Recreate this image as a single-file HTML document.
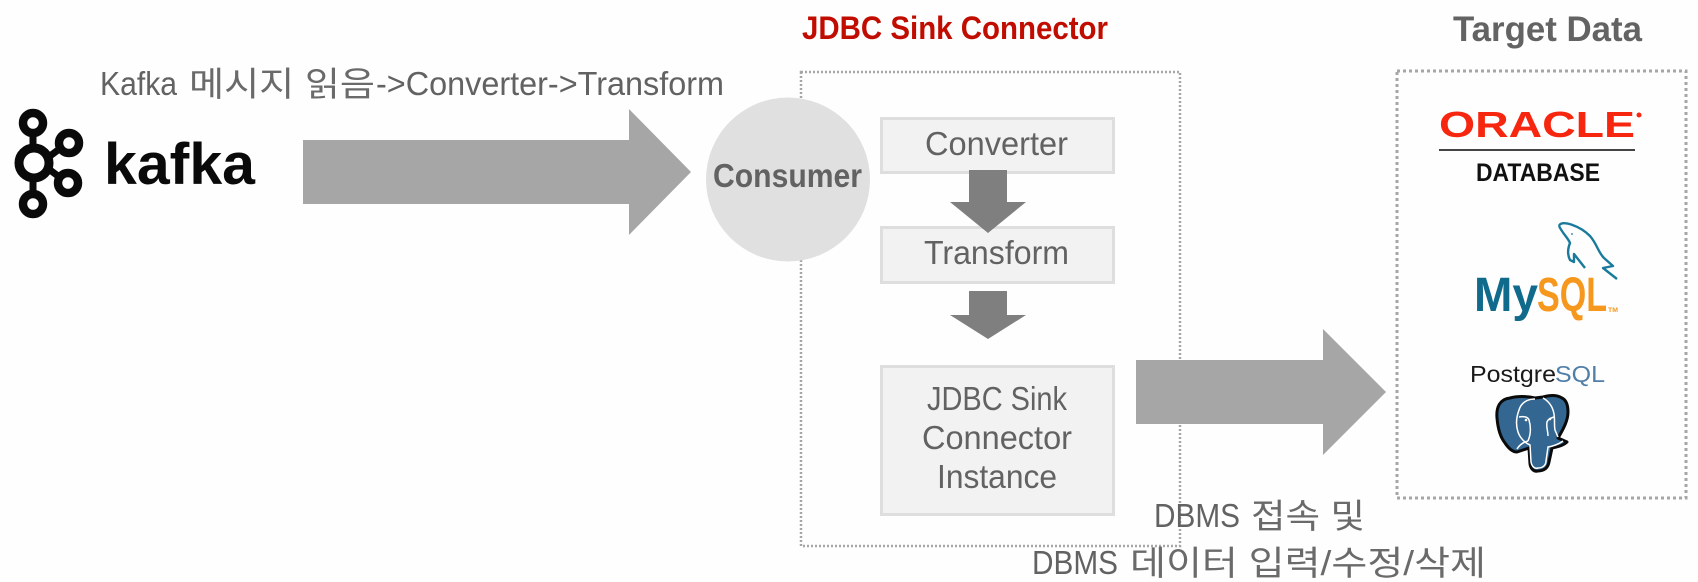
<!DOCTYPE html>
<html lang="ko">
<head>
<meta charset="utf-8">
<title>JDBC Sink Connector</title>
<style>
html,body{margin:0;padding:0;background:#fefefe;width:1698px;height:582px;overflow:hidden}
svg{display:block}
text{font-family:"Liberation Sans","Noto Sans CJK KR",sans-serif}
.t{font-size:33px;fill:#626262}
.k{font-size:34px;fill:#6a6a6a}
.b{font-weight:bold}
</style>
</head>
<body>
<svg width="1698" height="582" viewBox="0 0 1698 582" xmlns="http://www.w3.org/2000/svg">
<rect width="1698" height="582" fill="#fefefe"/>

<!-- Dotted containers -->
<rect x="801" y="72" width="379" height="474" fill="none" stroke="#a6a6a6" stroke-width="2.5" stroke-dasharray="2 2"/>
<rect x="1397" y="71" width="289" height="427" fill="none" stroke="#a6a6a6" stroke-width="3" stroke-dasharray="3 3"/>

<!-- Titles -->
<text x="802" y="39" class="b" font-size="32" fill="#c00d00" textLength="306" lengthAdjust="spacingAndGlyphs">JDBC Sink Connector</text>
<text x="1453" y="41" class="b" font-size="35" fill="#636363" textLength="189" lengthAdjust="spacingAndGlyphs">Target Data</text>

<text x="100" y="95" class="t" textLength="77" lengthAdjust="spacingAndGlyphs">Kafka</text>
<text x="189" y="96" class="k" textLength="186" lengthAdjust="spacingAndGlyphs">메시지 읽음</text>
<text x="376" y="95" class="t" textLength="348" lengthAdjust="spacingAndGlyphs">-&gt;Converter-&gt;Transform</text>

<!-- Kafka logo -->
<g fill="none" stroke="#0a0a0a">
  <path d="M33 135V148M33 182V192M50 156L58 150M50 170L58 176" stroke-width="7"/>
  <circle cx="33" cy="123" r="10" stroke-width="8.5"/>
  <circle cx="34" cy="163" r="15" stroke-width="9"/>
  <circle cx="69" cy="143" r="10" stroke-width="8.5"/>
  <circle cx="68" cy="183" r="10" stroke-width="8.5"/>
  <circle cx="33" cy="204" r="10" stroke-width="8.5"/>
</g>
<text x="104" y="184" class="b" font-size="58" fill="#0a0a0a" textLength="151" lengthAdjust="spacingAndGlyphs">kafka</text>

<!-- Big arrows -->
<polygon points="303,140 629,140 629,109 691,172 629,235 629,204 303,204" fill="#a6a6a6"/>
<polygon points="1136,360 1323,360 1323,329 1386,392 1323,455 1323,424 1136,424" fill="#a6a6a6"/>

<!-- Consumer -->
<circle cx="788" cy="179.5" r="82" fill="#e0e0e0"/>
<text x="713" y="187" class="b t" textLength="149" lengthAdjust="spacingAndGlyphs">Consumer</text>

<!-- Boxes -->
<rect x="881.5" y="118.5" width="232" height="54" fill="#f2f2f2" stroke="#dedede" stroke-width="3"/>
<rect x="881.5" y="227.5" width="232" height="55" fill="#f2f2f2" stroke="#dedede" stroke-width="3"/>
<rect x="881.5" y="366.5" width="232" height="148" fill="#f2f2f2" stroke="#dedede" stroke-width="3"/>

<text x="925" y="155" class="t" textLength="143" lengthAdjust="spacingAndGlyphs">Converter</text>
<text x="924" y="264" class="t" textLength="145" lengthAdjust="spacingAndGlyphs">Transform</text>
<text x="927" y="410" class="t" textLength="140" lengthAdjust="spacingAndGlyphs">JDBC Sink</text>
<text x="922" y="449" class="t" textLength="150" lengthAdjust="spacingAndGlyphs">Connector</text>
<text x="937" y="488" class="t" textLength="120" lengthAdjust="spacingAndGlyphs">Instance</text>

<!-- Small arrows -->
<polygon points="969,170 1007,170 1007,202 1026,202 988,233 950,202 969,202" fill="#7f7f7f"/>
<polygon points="969,291 1007,291 1007,315 1026,315 988,339 950,315 969,315" fill="#7f7f7f"/>

<!-- Bottom labels -->
<text x="1154" y="527" class="t" textLength="86" lengthAdjust="spacingAndGlyphs">DBMS</text>
<text x="1251" y="528" class="k" textLength="114" lengthAdjust="spacingAndGlyphs">접속 및</text>
<text x="1032" y="574" class="t" textLength="86" lengthAdjust="spacingAndGlyphs">DBMS</text>
<text x="1130" y="575" class="k" textLength="356" lengthAdjust="spacingAndGlyphs">데이터 입력/수정/삭제</text>

<!-- Oracle -->
<text x="1439" y="137" class="b" font-size="36" fill="#f6260f" textLength="196" lengthAdjust="spacingAndGlyphs">ORACLE</text>
<circle cx="1639" cy="115" r="2.5" fill="#f6260f"/>
<rect x="1439" y="149" width="196" height="2" fill="#444"/>
<text x="1476" y="181" class="b" font-size="25" fill="#111" textLength="124" lengthAdjust="spacingAndGlyphs">DATABASE</text>

<!-- MySQL -->
<path d="M1559 226C1561 219 1580 226 1590 236C1597 244 1598 252 1604 258L1613 266L1603 268L1617 279M1559 226C1563 234 1568 238 1570 243C1568 248 1567 254 1570 260L1574 262L1574 254L1585 268" fill="none" stroke="#1a7a9c" stroke-width="2.4" stroke-linejoin="round"/>
<circle cx="1572" cy="234" r="1" fill="#5a8fa8"/>
<text x="1474" y="311" class="b" font-size="48" fill="#0f6a8c" textLength="64" lengthAdjust="spacingAndGlyphs">My</text>
<text x="1537" y="311" class="b" font-size="48" fill="#f5981d" textLength="70" lengthAdjust="spacingAndGlyphs">SQL</text>
<text x="1608" y="312" class="b" font-size="6" fill="#f5981d" textLength="10" lengthAdjust="spacingAndGlyphs">TM</text>

<!-- PostgreSQL -->
<text x="1470" y="382" font-size="23" fill="#1a1a1a" textLength="86" lengthAdjust="spacingAndGlyphs">Postgre</text>
<text x="1555" y="382" font-size="23" fill="#4f7ea8" textLength="50" lengthAdjust="spacingAndGlyphs">SQL</text>
<path d="M1510 398C1500 399 1496 407 1497 418C1498 430 1501 438 1505 443C1509 449 1513 452 1517 452L1529 448L1530 464C1531 470 1535 472 1538 471C1544 471 1548 468 1549 462L1552 448C1558 447 1564 445 1567 442L1558 438C1564 428 1568 420 1568 412C1568 404 1566 400 1562 398C1557 395 1550 395 1543 397L1535 398C1527 396 1517 396 1510 398Z" fill="#336791" stroke="#0a0a0a" stroke-width="3" stroke-linejoin="round"/>
<path d="M1535 399C1527 399 1521 403 1519 410C1516 418 1516 426 1518 432C1520 438 1525 443 1530 445L1531 462C1532 467 1535 469 1538 468C1543 468 1546 465 1546 461L1548 447C1554 446 1559 444 1563 441M1543 398C1550 402 1553 408 1554 414C1555 420 1554 426 1555 430L1558 437M1519 417C1524 416 1528 417 1529 420C1531 427 1531 434 1528 441M1554 417C1551 418 1548 419 1547 422C1546 427 1548 431 1548 436M1517 449C1520 444 1524 442 1528 441" fill="none" stroke="#fff" stroke-width="1.5"/>
<circle cx="1526" cy="420" r="1.3" fill="#fff"/>
<circle cx="1550" cy="419" r="1.3" fill="#fff"/>
</svg>
</body>
</html>
